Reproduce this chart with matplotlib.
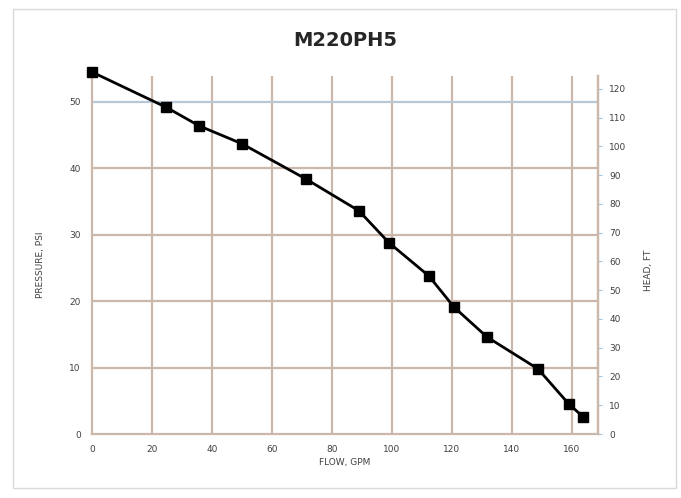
import matplotlib.pyplot as plt
from matplotlib.patches import Rectangle

# pump curve
flow_gpm = [0, 24.7, 35.7, 50, 71.3, 89, 99, 112.3, 120.7, 131.7, 148.7, 159, 163.7]
pressure_psi = [54.5, 49.2, 46.4, 43.7, 38.4, 33.6, 28.8, 23.8, 19.1, 14.6, 9.8, 4.5, 2.6]

x_ticks = [0, 20, 40, 60, 80, 100, 120, 140, 160]
psi_ticks = [0, 10, 20, 30, 40, 50]
ft_ticks = [0, 10, 20, 30, 40, 50, 60, 70, 80, 90, 100, 110, 120]
FT_PER_PSI = 2.31

grid_col = '#cbb8ab'
txt_col = '#404040'

fig = plt.figure(figsize=(6.81, 4.98), dpi=100)
fig.patches.append(Rectangle((13 / 681, 1 - 488 / 498), 663 / 681, 479 / 498,
                             transform=fig.transFigure, fill=False,
                             edgecolor='#d9d9d9', lw=1))

# axes box in pixels: left 92, right 598, top 76, bottom 434
ax = fig.add_axes([92 / 681, 1 - 434 / 498, 506 / 681, 358 / 498])
ax.set_xlim(0, 168.7)
ax.set_ylim(0, 53.9)

for x in x_ticks[1:]:
    ax.axvline(x, color=grid_col, lw=1.6, zorder=1)
for y in psi_ticks[1:]:
    c = '#b9c8d6' if y == 50 else grid_col
    ax.axhline(y, color=c, lw=1.6, zorder=1)

ax.plot(flow_gpm, pressure_psi, color='black', lw=2, marker='s', ms=7,
        zorder=3, clip_on=False)

ax.spines['top'].set_visible(False)
for s in ['left', 'bottom', 'right']:
    ax.spines[s].set_color(grid_col)
    ax.spines[s].set_linewidth(1.6)

ax.set_xticks(x_ticks)
ax.set_yticks(psi_ticks)
ax.tick_params(axis='both', length=0, labelsize=6.5, colors=txt_col, pad=8)

ax2 = ax.twinx()
ax2.set_ylim(0, 53.9 * FT_PER_PSI)
ax2.set_yticks(ft_ticks)
for s in ['top', 'left', 'bottom']:
    ax2.spines[s].set_visible(False)
ax2.spines['right'].set_color(grid_col)
ax2.spines['right'].set_linewidth(1.6)
ax2.tick_params(axis='y', length=3, colors='#a8c4dc', labelcolor=txt_col,
                labelsize=6.5, pad=5)

fig.text(345 / 681, 1 - 40 / 498, 'M220PH5', ha='center', va='center',
         fontsize=14, fontweight='bold', color='#262626')
fig.text(40 / 681, 1 - 265 / 498, 'PRESSURE, PSI', rotation=90, ha='center',
         va='center', fontsize=6.5, color=txt_col)
fig.text(648 / 681, 1 - 270 / 498, 'HEAD, FT', rotation=90, ha='center',
         va='center', fontsize=6.5, color=txt_col)
fig.text(345 / 681, 1 - 462 / 498, 'FLOW, GPM', ha='center', va='center',
         fontsize=6.5, color=txt_col)

fig.savefig('out.png', dpi=100)
